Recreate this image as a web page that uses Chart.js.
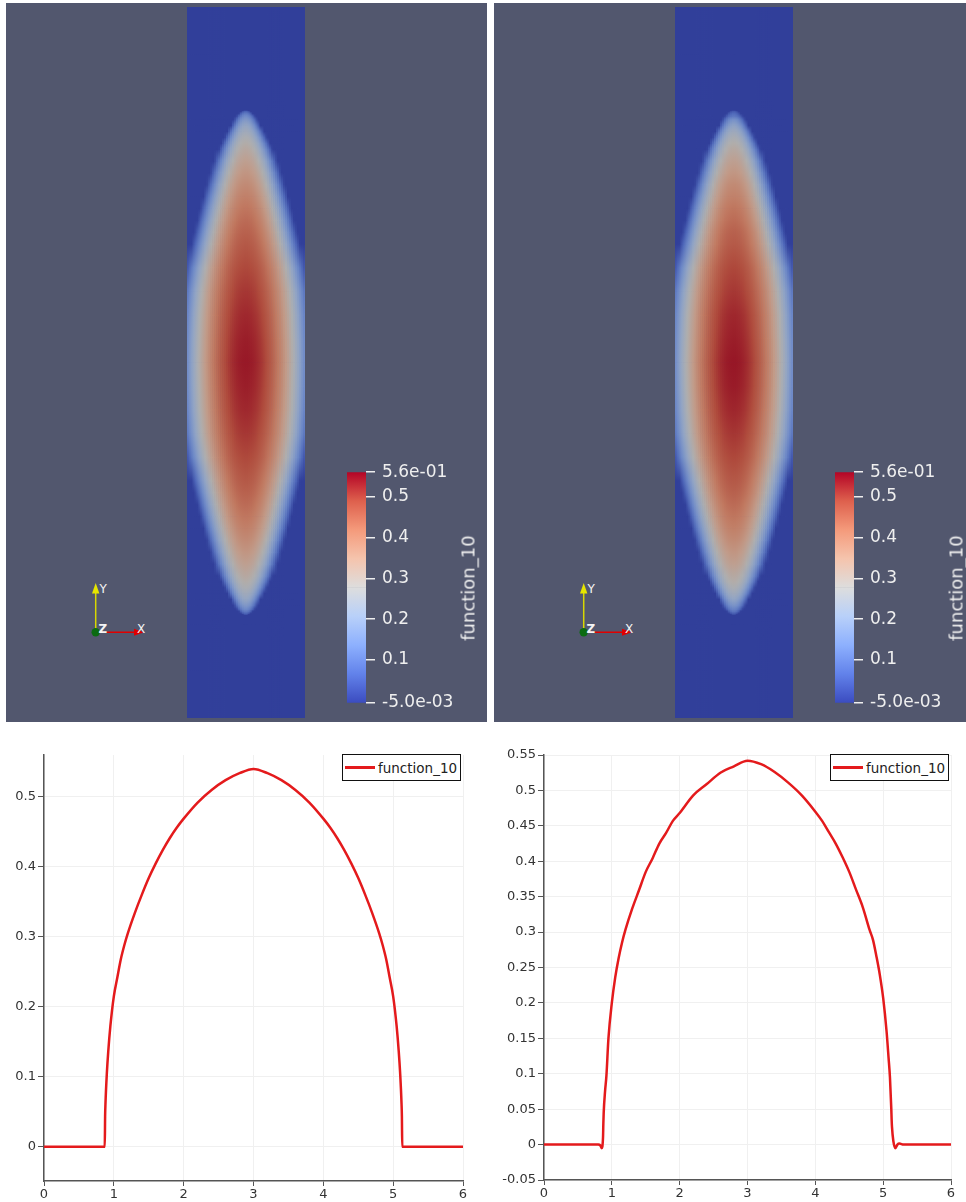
<!DOCTYPE html>
<html>
<head>
<meta charset="utf-8">
<title>function_10</title>
<script src="https://cdn.jsdelivr.net/npm/chart.js@4.4.1/dist/chart.umd.min.js"></script>
<style>
  html, body { margin: 0; padding: 0; background: #fff; }
  body { position: relative; width: 966px; height: 1202px; overflow: hidden; font-family: "DejaVu Sans", sans-serif; }
  canvas, svg { position: absolute; }
  .view { position: absolute; top: 3px; height: 719px; background: #52576e; }
  .cbtitle { position: absolute; color: #efefef; font-size: 18px; white-space: nowrap; transform: translate(-50%, -50%) rotate(-90deg); }
  .legend { position: absolute; height: 27px; box-sizing: border-box; background: #fff; border: 1px solid #111;
            display: flex; align-items: center; padding: 0 3px 0 2px; font-size: 13.5px; color: #222; }
  .legend i { display: inline-block; width: 30px; height: 2.5px; margin-right: 3px; }
</style>
</head>
<body>
<div class="view" style="left:6px;width:481px"></div>
<div class="view" style="left:494px;width:472px"></div>

<canvas id="fieldL" style="left:187px;top:7px" width="118" height="711"></canvas>
<canvas id="fieldR" style="left:675px;top:7px" width="118" height="711"></canvas>
<canvas id="barL" style="left:347px;top:455px" width="140" height="265"></canvas>
<canvas id="barR" style="left:835px;top:455px" width="131" height="265"></canvas>
<div class="cbtitle" style="left:468px;top:588px">function_10</div>
<div class="cbtitle" style="left:956px;top:588px">function_10</div>

<canvas id="plotL" style="left:0;top:725px" width="483" height="477"></canvas>
<canvas id="plotR" style="left:483px;top:725px" width="483" height="477"></canvas>

<script>
// position along the centre line (plot abscissa, also the long side of the strip)
const xs = [0, 0.4, 0.8, 0.83, 0.85, 0.87, 0.875, 0.88, 0.9, 0.92, 0.95, 1.0, 1.05, 1.1, 1.15, 1.2, 1.3, 1.4, 1.5,
  1.6, 1.7, 1.8, 1.9, 2.0, 2.2, 2.4, 2.6, 2.8, 3.0, 3.2, 3.4, 3.6, 3.8, 4.0, 4.1, 4.2, 4.3, 4.4, 4.5,
  4.6, 4.7, 4.8, 4.85, 4.9, 4.95, 5.0, 5.05, 5.08, 5.1, 5.12, 5.125, 5.13, 5.15, 5.18, 5.21, 5.24, 5.3, 5.6, 6.0];

// function_10 along the centre line, left run
const valuesL = [0, 0, 0, 0, 0, 0, 0.043, 0.061, 0.105, 0.136, 0.172, 0.215, 0.242, 0.268, 0.288, 0.305, 0.334, 0.36, 0.384,
  0.405, 0.424, 0.441, 0.456, 0.469, 0.492, 0.51, 0.524, 0.534, 0.540, 0.534, 0.524, 0.51, 0.492, 0.469, 0.456, 0.441, 0.424, 0.405, 0.384,
  0.36, 0.334, 0.305, 0.288, 0.268, 0.242, 0.215, 0.172, 0.136, 0.105, 0.061, 0.043, 0, 0, 0, 0, 0, 0, 0, 0];

// function_10 along the centre line, right run (noisier, small undershoots)
const valuesR = [0, 0, 0, -0.001, -0.005, 0.01, 0.03, 0.045, 0.075, 0.097, 0.15, 0.2, 0.236, 0.263, 0.285, 0.303, 0.333, 0.359, 0.385,
  0.404, 0.425, 0.44, 0.457, 0.468, 0.493, 0.509, 0.525, 0.534, 0.542, 0.537, 0.526, 0.511, 0.493, 0.47, 0.457, 0.441, 0.425, 0.406, 0.385,
  0.36, 0.335, 0.303, 0.289, 0.266, 0.24, 0.207, 0.16, 0.122, 0.095, 0.05, 0.035, 0.025, 0.005, -0.005, 0, 0.0015, 0, 0, 0];

// half width of the non-zero region across the strip (strip width = 1)
const halfWidth = [0, 0, 0, 0, 0, 0, 0.025, 0.04, 0.06, 0.08, 0.1, 0.125, 0.155, 0.18, 0.205, 0.228, 0.268, 0.3, 0.33,
  0.358, 0.385, 0.41, 0.435, 0.46, 0.515, 0.55, 0.565, 0.572, 0.575, 0.572, 0.565, 0.55, 0.515, 0.46, 0.435, 0.41, 0.385, 0.358, 0.33,
  0.3, 0.268, 0.228, 0.205, 0.18, 0.155, 0.125, 0.1, 0.08, 0.06, 0.04, 0.025, 0, 0, 0, 0, 0, 0, 0, 0];

const xTicks = [0, 1, 2, 3, 4, 5, 6];
const yTicksL = [0, 0.1, 0.2, 0.3, 0.4, 0.5];
const yTicksR = [-0.05, 0, 0.05, 0.1, 0.15, 0.2, 0.25, 0.3, 0.35, 0.4, 0.45, 0.5, 0.55];
const barTicks = [-0.005, 0.1, 0.2, 0.3, 0.4, 0.5, 0.56];
const barTickLabels = ['-5.0e-03', '0.1', '0.2', '0.3', '0.4', '0.5', '5.6e-01'];

// ParaView "Cool to Warm"
const coolWarm = [[59, 76, 192], [98, 130, 234], [141, 176, 254], [184, 208, 249], [221, 221, 221],
  [245, 196, 173], [244, 154, 123], [222, 96, 77], [180, 4, 38]];
const colorRange = [-0.005, 0.56];

const FONT = '"DejaVu Sans", sans-serif';
const LINE_RED = 'rgb(228,26,28)';
const SHADE = 0.79;

function colorFor(v, shade) {
  let f = (v - colorRange[0]) / (colorRange[1] - colorRange[0]);
  f = Math.max(0, Math.min(1, f)) * (coolWarm.length - 1);
  const k = Math.min(Math.floor(f), coolWarm.length - 2);
  const t = f - k;
  const c = coolWarm[k].map((a, j) => (a + (coolWarm[k + 1][j] - a) * t) * shade);
  return `rgb(${c[0].toFixed(0)},${c[1].toFixed(0)},${c[2].toFixed(0)})`;
}

// vertical gradient between two values, once the y scale is laid out
function vGradient(ctx, v0, v1, c0, c1) {
  const y = ctx.chart.scales.y;
  const p0 = y && y.getPixelForValue(v0);
  const p1 = y && y.getPixelForValue(v1);
  if (!Number.isFinite(p0) || !Number.isFinite(p1) || p0 === p1) return c0;
  const g = ctx.chart.ctx.createLinearGradient(0, p0, 0, p1);
  g.addColorStop(0, c0);
  g.addColorStop(1, c1);
  return g;
}

function fieldChart(id, values) {
  const cols = 60;
  const labels = Array.from({ length: cols }, (_, c) => c);
  // value of cell column c on row node i: centre value falling to zero at the half width
  const cell = (i, c) => {
    const w = halfWidth[i];
    if (!(w > 0)) return 0;
    const r = Math.abs((c + 0.5) / cols - 0.5) / w;
    return r >= 1 ? 0 : values[i] * (1 - r * r);
  };
  const datasets = [];
  for (let i = 0; i < xs.length - 1; i++) {
    datasets.push({
      data: labels.map(() => [xs[i], xs[i + 1]]),
      backgroundColor: ctx => {
        if (ctx.type !== 'data') return colorFor(0, SHADE);
        return vGradient(ctx, xs[i], xs[i + 1],
          colorFor(cell(i, ctx.dataIndex), SHADE), colorFor(cell(i + 1, ctx.dataIndex), SHADE));
      },
      borderWidth: 0,
      grouped: false,
      barPercentage: 1,
      categoryPercentage: 1
    });
  }
  const el = document.getElementById(id);
  el.style.background = colorFor(0, SHADE);
  return new Chart(el, {
    type: 'bar',
    data: { labels, datasets },
    options: {
      responsive: false,
      animation: false,
      events: [],
      layout: { padding: 0 },
      plugins: { legend: { display: false }, tooltip: { enabled: false } },
      scales: {
        x: { display: false },
        y: { display: false, min: 0, max: 6, reverse: true }
      }
    }
  });
}

function colorBar(id) {
  const n = coolWarm.length - 1;
  const stops = coolWarm.map((_, k) => colorRange[0] + (colorRange[1] - colorRange[0]) * k / n);
  const datasets = [];
  for (let k = 0; k < n; k++) {
    datasets.push({
      data: [[stops[k], stops[k + 1]]],
      backgroundColor: ctx => {
        if (ctx.type !== 'data') return colorFor(stops[k], 1);
        return vGradient(ctx, stops[k], stops[k + 1], colorFor(stops[k], 1), colorFor(stops[k + 1], 1));
      },
      borderWidth: 0,
      grouped: false,
      barPercentage: 1,
      categoryPercentage: 1
    });
  }
  const el = document.getElementById(id);
  return new Chart(el, {
    type: 'bar',
    data: { labels: ['function_10'], datasets },
    options: {
      responsive: false,
      animation: false,
      events: [],
      layout: { padding: { top: 16, bottom: 12 } },
      plugins: { legend: { display: false }, tooltip: { enabled: false } },
      scales: {
        x: { display: false },
        y: {
          position: 'right',
          min: colorRange[0],
          max: colorRange[1],
          afterBuildTicks: a => { a.ticks = barTicks.map(v => ({ value: v })); },
          afterFit: s => { s.width = el.width - 19; },
          ticks: { autoSkip: false, color: '#efefef', padding: 7, font: { family: FONT, size: 17 },
                   callback: (v, i) => barTickLabels[i] },
          grid: { drawOnChartArea: false, color: '#efefef', tickLength: 9, lineWidth: 1.5 },
          border: { display: false }
        }
      }
    }
  });
}

function triad(left) {
  const svg = `<svg style="left:${left}px;top:570px" width="90" height="80" viewBox="0 0 90 80">
    <line x1="20.7" y1="62.3" x2="20.7" y2="22" stroke="#d8d800" stroke-width="1.5"/>
    <polygon points="20.7,13 17,23.5 24.4,23.5" fill="#e6e600"/>
    <line x1="20.7" y1="62.3" x2="62" y2="62.3" stroke="#e00000" stroke-width="1.5"/>
    <polygon points="69,62.3 59,58.8 59,65.8" fill="#e00000"/>
    <circle cx="20.7" cy="62.3" r="4.2" fill="#0b6b12"/>
    <text x="24.5" y="22.5" fill="#f4f4f4" font-family="DejaVu Sans" font-size="12">Y</text>
    <text x="23.5" y="63" fill="#f4f4f4" font-family="DejaVu Sans" font-size="12" font-weight="bold">Z</text>
    <text x="62" y="63" fill="#f4f4f4" font-family="DejaVu Sans" font-size="12">X</text>
  </svg>`;
  document.body.insertAdjacentHTML('beforeend', svg);
}

function fmt(v) { return String(+v.toFixed(2)); }

function linePlot(id, values, yMin, yMax, yTicks, axisWidth, padRight, axisHeight) {
  return new Chart(document.getElementById(id), {
    type: 'line',
    data: {
      datasets: [{
        label: 'function_10',
        data: xs.map((x, i) => ({ x, y: values[i] })),
        borderColor: LINE_RED,
        borderWidth: 2.5,
        pointRadius: 0,
        cubicInterpolationMode: 'monotone',
        fill: false
      }]
    },
    options: {
      responsive: false,
      animation: false,
      events: [],
      layout: { padding: { top: 30, right: padRight, left: 0, bottom: 0 } },
      plugins: { legend: { display: false }, tooltip: { enabled: false } },
      scales: {
        x: {
          type: 'linear', min: 0, max: 6,
          afterBuildTicks: a => { a.ticks = xTicks.map(v => ({ value: v })); },
          afterFit: s => { s.height = axisHeight; },
          ticks: { color: '#333', padding: 1, maxRotation: 0, font: { family: FONT, size: 13 }, callback: fmt },
          grid: { color: '#f0f0f0', tickColor: '#555', tickLength: 5 },
          border: { color: '#555', width: 1.5 }
        },
        y: {
          min: yMin, max: yMax,
          afterBuildTicks: a => { a.ticks = yTicks.map(v => ({ value: v })); },
          afterFit: s => { s.width = axisWidth; },
          ticks: { color: '#333', padding: 2, font: { family: FONT, size: 13 }, callback: fmt },
          grid: { color: '#f0f0f0', tickColor: '#555', tickLength: 6 },
          border: { color: '#555', width: 1.5 }
        }
      }
    }
  });
}

function htmlLegend(chart, left, top) {
  const ds = chart.data.datasets[0];
  const div = document.createElement('div');
  div.className = 'legend';
  div.style.left = left + 'px';
  div.style.top = top + 'px';
  div.innerHTML = `<i style="background:${ds.borderColor}"></i><span>${ds.label}</span>`;
  document.body.appendChild(div);
}

fieldChart('fieldL', valuesL);
fieldChart('fieldR', valuesR);
colorBar('barL');
colorBar('barR');
triad(75);
triad(563);

const plotL = linePlot('plotL', valuesL, -0.049, 0.56, yTicksL, 44, 20, 21);
const plotR = linePlot('plotR', valuesR, -0.05, 0.55, yTicksR, 61, 15, 22);
htmlLegend(plotL, 342, 754);
htmlLegend(plotR, 830, 754);
</script>
</body>
</html>
